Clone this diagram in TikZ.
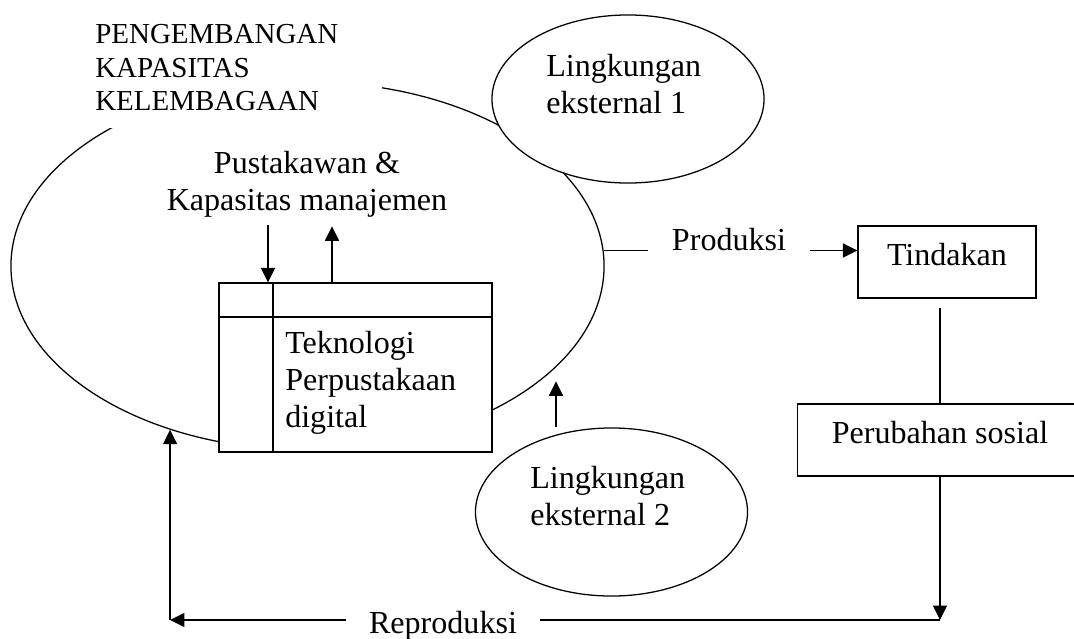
\documentclass[tikz,border=0pt]{standalone}
\usepackage{fontspec}
\setmainfont{Liberation Serif}
\usepackage{tikz}
\usetikzlibrary{shapes.geometric,arrows.meta,calc,positioning}

\begin{document}
\begin{tikzpicture}[x=0.025cm,y=-0.025cm,>={Triangle[length=3.6mm,width=3.5mm]}]
    \tikzset{
        bubble/.style={
            draw,
            ellipse,
            fill=white,
            inner sep=0pt,
            line width=0.9pt
        }
    }
    \tikzset{
        blok/.style={
            draw,
            fill=white,
            line width=0.9pt,
            inner sep=0pt,
            text height=0.7em,
            text depth=0.25em,
            font=\fontsize{22.8}{26.3}\selectfont
        }
    }
    \tikzset{
        teks/.style={
            inner sep=0pt,
            font=\fontsize{22.8}{26.3}\selectfont
        }
    }
    \tikzset{
        alur/.style={
            line width=0.9pt
        }
    }

    \useasboundingbox (0,0) rectangle (1074,639);

    \node[bubble, fill=none, minimum width=14.825cm, minimum height=9.2cm] (inst) at (307.5,266) {};
    \node[fill=white, anchor=north west, inner xsep=0.175cm, inner ysep=0pt,
        text width=7cm, minimum height=3.02cm, align=left,
        font=\fontsize{20.6}{23.8}\selectfont] (judul) at (88,7) {PENGEMBANGAN\\KAPASITAS\\KELEMBAGAAN};

    \node[bubble, minimum width=6.8cm, minimum height=4.2cm] (ext1) at (628,99) {};
    \node[teks, anchor=base west, align=left] (ext1txt) at (546,113) {Lingkungan\\eksternal 1};

    \node[teks, anchor=base, align=center] (mgmt) at (307,210) {Pustakawan \&\\Kapasitas manajemen};

    \node[blok, minimum width=6.825cm, minimum height=4.225cm] (tech) at (355.5,367.5) {};
    \draw[alur] (tech.west |- 0,317) -- (tech.east |- 0,317);
    \draw[alur] (tech.north -| 273,0) -- (tech.south -| 273,0);
    \node[teks, anchor=base west, align=left] (techtxt) at (285,427) {Teknologi\\Perpustakaan\\digital};

    \draw[<-, alur] (tech.north -| 268,0) -- ++(0,-57);
    \draw[->, alur] (tech.north -| 332,0) -- ++(0,-56);

    \node[bubble, minimum width=6.8cm, minimum height=4.2cm] (ext2) at (611.5,512) {};
    \node[teks, anchor=base west, align=left] (ext2txt) at (530,525) {Lingkungan\\eksternal 2};
    \draw[->, alur] (ext2.north -| 556,0) -- ++(0,-46);

    \node[teks, anchor=base, inner xsep=0.6cm] (prod) at (729,250) {Produksi};
    \node[blok, minimum width=4.45cm, minimum height=1.8cm] (tind) at (947,262) {Tindakan};
    \draw[alur] (inst.3) -- (inst.3 -| prod.west);
    \draw[->, alur] (prod.east |- inst.3) -- (inst.3 -| tind.west);

    \node[blok, minimum width=7.125cm, minimum height=1.8cm] (soc) at (940,440) {Perubahan sosial};
    \draw[alur] ($(tind.south -| soc.north)+(0,9)$) -- (soc.north);

    \node[teks, anchor=base, inner xsep=0.58cm] (rep) at (443,633) {Reproduksi};
    \coordinate (kanan) at (soc.south |- 0,620);
    \coordinate (kiri) at (inst.230 |- 0,620);
    \draw[->, alur] (soc.south) -- (kanan);
    \draw[alur] (kanan) -- (kanan -| rep.east);
    \draw[->, alur] (kiri -| rep.west) -- (kiri);
    \draw[->, alur] (kiri) -- (inst.230);
\end{tikzpicture}
\end{document}
